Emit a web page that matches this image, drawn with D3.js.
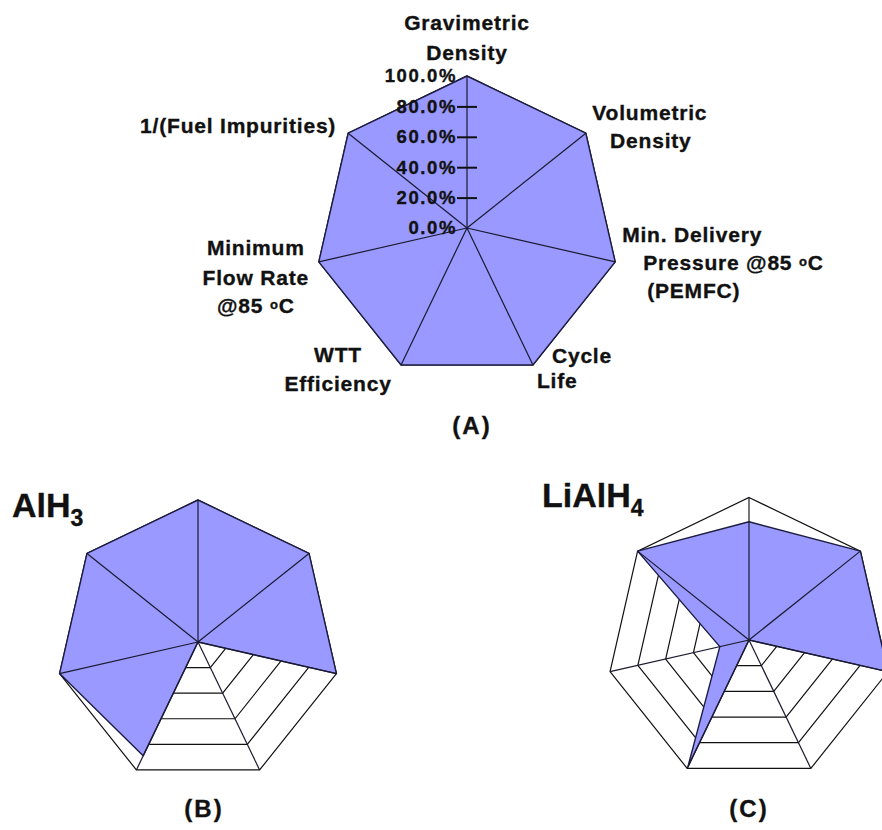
<!DOCTYPE html>
<html>
<head>
<meta charset="utf-8">
<script src="https://cdn.jsdelivr.net/npm/d3@7"></script>
<style>
  html, body { margin: 0; padding: 0; background: #fff; }
  svg { display: block; }
  text { font-family: "Liberation Sans", Arial, sans-serif; font-weight: bold; fill: #111; stroke: #111; stroke-width: 0.35px; }
</style>
</head>
<body>
<svg id="chart" width="882" height="830"></svg>
<script>
// ---------- data ----------
const categories = [
  "Gravimetric Density",
  "Volumetric Density",
  "Min. Delivery Pressure @85 oC (PEMFC)",
  "Cycle Life",
  "WTT Efficiency",
  "Minimum Flow Rate @85 oC",
  "1/(Fuel Impurities)"
];
const categoryLines = [
  ["Gravimetric", "Density"],
  ["Volumetric", "Density"],
  ["Min. Delivery", "Pressure @85 °C", "(PEMFC)"],
  ["Cycle", "Life"],
  ["WTT", "Efficiency"],
  ["Minimum", "Flow Rate", "@85 °C"],
  ["1/(Fuel Impurities)"]
];
const targetValues = [1.0, 1.0, 1.0, 1.0, 1.0, 1.0, 1.0];
const alh3Values   = [1.0, 1.0, 1.0, 0.0, 0.89, 1.0, 1.0];
const lialh4Values = [0.83, 1.0, 1.0, 0.0, 0.99, 0.21, 1.0];
const tickValues = [0, 0.2, 0.4, 0.6, 0.8, 1.0];
const tickLabels = ["0.0%", "20.0%", "40.0%", "60.0%", "80.0%", "100.0%"];
const ringValues = [0.2, 0.4, 0.6, 0.8, 1.0];
const panelTitles = ["(A)", "(B)", "(C)"];

// ---------- layout (positions/styles) ----------
const FILL = "#9999ff";
const panels = [
  { values: targetValues, cx: 467, cy: 228, r: 152, caption: { x: 472, y: 434 } },
  { values: alh3Values,   cx: 198, cy: 642, r: 142, caption: { x: 204, y: 817 },
    formula: { base: "AlH", sub: "3", x: 12, y: 517 } },
  { values: lialh4Values, cx: 749, cy: 640, r: 142.5, caption: { x: 749, y: 817 },
    formula: { base: "LiAlH", sub: "4", x: 542, y: 507 } }
];
// label offsets relative to each 100% vertex of panel A
const labelLayout = [
  { anchor: "middle", lines: [[0, -46], [0, -16]] },
  { anchor: "middle", lines: [[64, -13], [65, 15]] },
  { anchor: "start",  lines: [[7, -20], [28, 8], [32, 36]] },
  { anchor: "start",  lines: [[19, -2], [4, 23]] },
  { anchor: "middle", lines: [[-63, -3], [-63, 26]] },
  { anchor: "middle", lines: [[-63, -7], [-63, 23], [-63, 51]] },
  { anchor: "end",    lines: [[-12, 0]] }
];

const svg = d3.select("#chart");
const n = categories.length;
const angle = d3.scaleLinear().domain([0, n]).range([0, 2 * Math.PI]);

panels.forEach((p, pi) => {
  const rScale = d3.scaleLinear().domain([0, 1]).range([0, p.r]);
  const g = svg.append("g").attr("transform", `translate(${p.cx},${p.cy})`);
  const radial = d3.lineRadial()
    .angle((d, i) => angle(i))
    .radius(d => rScale(d))
    .curve(d3.curveLinearClosed);

  // grid rings
  g.selectAll("path.ring").data(ringValues).join("path")
    .attr("class", "ring")
    .attr("d", v => radial(d3.range(n).map(() => v)))
    .attr("fill", "none").attr("stroke", "#111").attr("stroke-width", 1.2);

  // data polygon
  g.append("path")
    .attr("d", radial(p.values))
    .attr("fill", FILL)
    .attr("stroke", "#1c1c40").attr("stroke-width", 1.4)
    .attr("stroke-linejoin", "round");

  // spokes
  g.selectAll("line.spoke").data(d3.range(n)).join("line")
    .attr("class", "spoke")
    .attr("x1", 0).attr("y1", 0)
    .attr("x2", i => rScale(1) * Math.sin(angle(i)))
    .attr("y2", i => -rScale(1) * Math.cos(angle(i)))
    .attr("stroke", "#1a1a30").attr("stroke-width", 1.2);

  // caption
  svg.append("text")
    .attr("x", p.caption.x).attr("y", p.caption.y)
    .attr("text-anchor", "middle")
    .attr("font-size", 24).attr("letter-spacing", 2)
    .text(panelTitles[pi]);

  if (p.formula) {
    const t = svg.append("text")
      .attr("x", p.formula.x).attr("y", p.formula.y)
      .attr("font-size", 34);
    t.append("tspan").text(p.formula.base);
    t.append("tspan").attr("font-size", 23).attr("dy", 9).text(p.formula.sub);
  }

  if (pi === 0) {
    // value axis on the first spoke
    const yScale = d3.scaleLinear().domain([0, 1]).range([0, -p.r]);
    const axis = d3.axisLeft(yScale)
      .tickValues(tickValues)
      .tickFormat((d, i) => tickLabels[i])
      .tickSize(10).tickPadding(2);
    const ag = g.append("g").call(axis);
    ag.select(".domain").remove();
    ag.selectAll(".tick line")
      .attr("x1", -10).attr("x2", 10)
      .attr("stroke", "#111").attr("stroke-width", 2)
      .attr("display", d => (d > 0 && d < 1) ? null : "none");
    ag.selectAll(".tick text")
      .attr("x", -10)
      .attr("font-family", "Liberation Sans, Arial, sans-serif")
      .attr("font-weight", "bold")
      .attr("font-size", 18.5)
      .attr("letter-spacing", 1.6)
      .attr("fill", "#111");

    // category labels
    categoryLines.forEach((lines, ci) => {
      const vx = p.cx + rScale(1) * Math.sin(angle(ci));
      const vy = p.cy - rScale(1) * Math.cos(angle(ci));
      const lay = labelLayout[ci];
      lines.forEach((line, li) => {
        const t = svg.append("text")
          .attr("x", vx + lay.lines[li][0])
          .attr("y", vy + lay.lines[li][1])
          .attr("text-anchor", lay.anchor)
          .attr("font-size", 21)
          .attr("letter-spacing", 0.8);
        if (line.includes("°C")) {
          const parts = line.split("°C");
          t.append("tspan").text(parts[0]);
          t.append("tspan").attr("font-size", 13).attr("dy", -4).text("o");
          t.append("tspan").attr("dy", 4).text("C");
        } else {
          t.text(line);
        }
      });
    });
  }
});
</script>
</body>
</html>
